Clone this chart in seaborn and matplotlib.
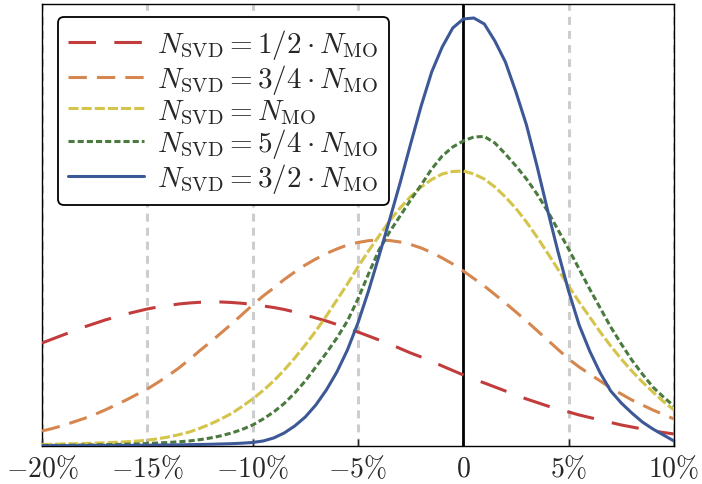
import pandas as pd
import matplotlib
matplotlib.use("Agg")
import matplotlib.pyplot as plt
import seaborn as sns

sns.set_style("white")
plt.rcParams["mathtext.fontset"] = "cm"
plt.rcParams["font.family"] = ["DejaVu Serif"]

# relative error (%) on a 0.5% grid, density in arbitrary units
err = [i / 2 for i in range(-40, 21)]

half = [103, 107, 111, 115, 119, 122.5, 126, 129, 132, 134.5,
        137, 139, 140.5, 142, 143, 143.7, 144, 144, 143.5, 142.7,
        141.5, 140, 138.5, 136.5, 134, 131, 128, 125, 121.5, 118,
        114, 110, 106, 102, 97.5, 93, 89, 84.5, 80, 75.5,
        71, 67, 63, 59, 55, 51, 47, 43.5, 40, 37,
        34, 31, 28.5, 26, 23.5, 21, 19, 17, 15, 13.5,
        12]
three_q = [15, 17.5, 20.5, 24, 27.5, 31.5, 36, 41, 46, 51.5,
           57, 63.5, 70.5, 78, 86.5, 95.5, 104, 113, 122, 131.5,
           141, 150, 158, 166.5, 174, 181, 187, 192.5, 197, 201,
           203.5, 205.3, 206, 205.5, 204, 201.5, 198, 193.5, 188, 182,
           175, 167.5, 160, 151.5, 143, 134, 125, 115.5, 106, 96.5,
           87, 79, 72, 65, 58, 52, 46, 41, 36, 31.5,
           27]
one = [1.5, 1.7, 2, 2.2, 2.5, 2.8, 3.2, 3.7, 4.2, 4.9,
       5.8, 7.2, 9, 11.3, 14, 17.7, 22, 27, 32.5, 39.5,
       47, 55.5, 65, 76, 88, 101, 115, 130, 146, 162,
       179, 195, 210, 225, 238, 249.5, 259, 266.5, 272, 274.5,
       275, 272, 267, 259, 249, 237.5, 224, 209, 193, 176.5,
       160, 144, 129, 114, 100, 87, 75, 64, 54, 44.5,
       36]
five_q = [0.5, 0.6, 0.7, 0.85, 1, 1.15, 1.3, 1.5, 1.8, 2.1,
          2.5, 3, 3.5, 4.2, 5, 6.3, 8, 10.2, 13, 16.5,
          21, 27, 34, 42.5, 53, 65, 79, 93, 108, 125,
          147, 172, 196, 214, 230, 246, 261, 277, 290, 299,
          305, 309, 309.5, 303, 292, 280, 267, 252, 235, 216,
          197, 177, 157, 138, 119, 102, 86, 72, 59, 49,
          40]
three_h = [0.2, 0.25, 0.3, 0.35, 0.4, 0.45, 0.5, 0.55, 0.6, 0.7,
           0.8, 0.9, 1, 1.15, 1.3, 1.5, 1.7, 2, 2.3, 2.8,
           3.5, 5, 8, 13, 20, 29, 41, 56, 74, 96,
           123, 155, 190, 226, 263, 302, 340, 374, 399, 418,
           427, 428, 422, 405, 384, 354, 321, 280, 236, 194,
           155, 121, 95, 73, 55, 43, 33, 24, 17, 11,
           5]

labels = [r"$N_{\rm SVD} = 1/2 \cdot N_{\rm MO}$",
          r"$N_{\rm SVD} = 3/4 \cdot N_{\rm MO}$",
          r"$N_{\rm SVD} = N_{\rm MO}$",
          r"$N_{\rm SVD} = 5/4 \cdot N_{\rm MO}$",
          r"$N_{\rm SVD} = 3/2 \cdot N_{\rm MO}$"]
colors = ["#c23c3c", "#d6874f", "#d4c44b", "#4b7a3f", "#3c5896"]
dash_styles = [(9, 6), (6, 3.3), (3.3, 1), (2, 1), ""]

df = pd.DataFrame({
    "err": err * 5,
    "density": half + three_q + one + five_q + three_h,
    "case": [lab for lab in labels for _ in err],
})

fig, ax = plt.subplots(figsize=(7.02, 4.85), dpi=100)
fig.subplots_adjust(left=0.0598, right=0.960, top=0.9897, bottom=0.0784)

for v in [-20, -15, -10, -5, 5, 10]:
    ax.axvline(v, color="#cdcdcd", lw=2.2, linestyle=(0, (2.6, 2)), zorder=0)
ax.axvline(0, color="black", lw=2, zorder=1)

sns.lineplot(data=df, x="err", y="density", hue="case", style="case",
             hue_order=labels, style_order=labels,
             palette=dict(zip(labels, colors)), dashes=dict(zip(labels, dash_styles)),
             linewidth=2.2, ax=ax, zorder=3)

ax.set_xlim(-20, 10)
ax.set_ylim(0, 442)
ax.set_yticks([])
ticks = [-20, -15, -10, -5, 0, 5, 10]
ax.set_xticks(ticks)
ax.set_xticklabels([r"$0$" if t == 0 else r"$%d\%%$" % t for t in ticks], fontsize=20)
ax.tick_params(axis="x", direction="in", length=5, width=1, pad=6, bottom=True)
ax.set_xlabel("")
ax.set_ylabel("")
for s in ax.spines.values():
    s.set_color("black")
    s.set_linewidth(1)
ax.spines["left"].set_zorder(0.5)

sns.move_legend(ax, "upper left", bbox_to_anchor=(0.025, 0.97), borderaxespad=0,
                title=None, fontsize=21, frameon=True, fancybox=True,
                edgecolor="black", framealpha=1, handlelength=2.6,
                handletextpad=0.45, labelspacing=0.02, borderpad=0.35)
leg = ax.get_legend()
leg.get_frame().set_linewidth(1.3)
for line in leg.get_lines():
    line.set_linewidth(2.2)

fig.savefig("out.png", dpi=100)
